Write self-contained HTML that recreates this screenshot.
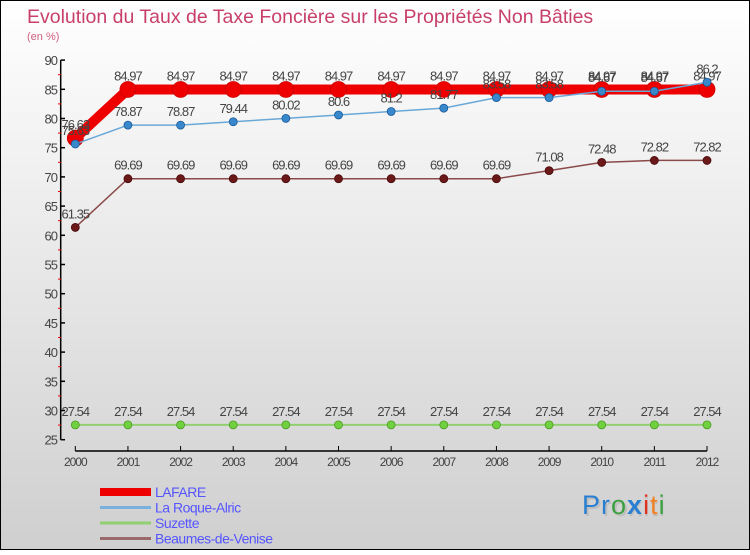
<!DOCTYPE html>
<html><head><meta charset="utf-8">
<style>
html,body{margin:0;padding:0;}
body{width:750px;height:550px;overflow:hidden;font-family:"Liberation Sans",sans-serif;}
svg text{font-family:"Liberation Sans",sans-serif;}
</style></head>
<body>
<svg id="chart" width="750" height="550" viewBox="0 0 750 550" xmlns="http://www.w3.org/2000/svg">
<defs>
<linearGradient id="bg" x1="0" y1="0" x2="0" y2="1">
<stop offset="0" stop-color="#ffffff"/><stop offset="1" stop-color="#cfcfcf"/>
</linearGradient>
</defs>
<rect x="0.5" y="0.5" width="749" height="549" fill="url(#bg)" stroke="#000" stroke-width="1"/>
<text x="27" y="23" font-size="19.5" fill="#c8406a">Evolution du Taux de Taxe Foncière sur les Propriétés Non Bâties</text>
<text x="27" y="40" font-size="11" fill="#d06080">(en %)</text>
<g id="axes"></g>
<g id="series"></g>
<g id="legend"></g>
<g font-size="27" font-family="Liberation Sans, sans-serif" letter-spacing="1">
<text x="584" y="516" fill="#aaa" opacity="0.5">Proxiti</text>
<text x="582" y="514"><tspan fill="#2a7fd0">P</tspan><tspan fill="#2a7fd0">r</tspan><tspan fill="#3aa040">o</tspan><tspan fill="#2a7fd0" font-weight="bold">x</tspan><tspan fill="#e03020">i</tspan><tspan fill="#f08020">t</tspan><tspan fill="#3aa040">i</tspan></text>
</g>
</svg>
<script>
const years = [2000,2001,2002,2003,2004,2005,2006,2007,2008,2009,2010,2011,2012];
const lafare = [76.63,84.97,84.97,84.97,84.97,84.97,84.97,84.97,84.97,84.97,84.97,84.97,84.97];
const laRoque = [75.63,78.87,78.87,79.44,80.02,80.6,81.2,81.77,83.58,83.58,84.67,84.67,86.2];
const suzette = [27.54,27.54,27.54,27.54,27.54,27.54,27.54,27.54,27.54,27.54,27.54,27.54,27.54];
const beaumes = [61.35,69.69,69.69,69.69,69.69,69.69,69.69,69.69,69.69,71.08,72.48,72.82,72.82];
const yTicks = [25,30,35,40,45,50,55,60,65,70,75,80,85,90];
const seriesNames = ["LAFARE","La Roque-Alric","Suzette","Beaumes-de-Venise"];

const NS="http://www.w3.org/2000/svg";
const x0=75.3, x1=707, yMin=25, yMax=90, py0=439.7, py1=60.1;
function xs(i){return x0+(x1-x0)*i/(years.length-1);}
function ys(v){return py0-(v-yMin)*(py0-py1)/(yMax-yMin);}
function mk(tag,attrs,parent){const e=document.createElementNS(NS,tag);for(const k in attrs)e.setAttribute(k,attrs[k]);parent.appendChild(e);return e;}
function fmt(v){return String(v);}

const axes=document.getElementById('axes');
let ax=mk('line',{x1:60.7,y1:py1,x2:60.7,y2:py0,stroke:'#000','stroke-width':1.5},axes);


yTicks.forEach(t=>{
  const y=ys(t);
  let tk=mk('line',{x1:60.7,y1:y,x2:65,y2:y,stroke:'#000','stroke-width':1.5},axes);
  
  
  let lb=mk('text',{x:57,y:y+5,'font-size':13,fill:'#444','text-anchor':'end','letter-spacing':'-1'},axes);
  lb.textContent=t;
  
  
  if(t<yMax){
    let mt=mk('line',{x1:58,y1:ys(t+2.5),x2:61,y2:ys(t+2.5),stroke:'#e00','stroke-width':1},axes);
    
    
  }
});
let xa=mk('line',{x1:x0,y1:451,x2:x1,y2:451,stroke:'#000','stroke-width':1.5},axes);


years.forEach((yr,i)=>{
  let tk=mk('line',{x1:xs(i),y1:446,x2:xs(i),y2:451,stroke:'#000','stroke-width':1},axes);
  
  
  let lb=mk('text',{x:xs(i),y:466,'font-size':12,fill:'#444','text-anchor':'middle','letter-spacing':'-1'},axes);
  lb.textContent=yr;
  
  
});

const ser=document.getElementById('series');
function drawSeries(vals,name,color,width,r,dot,dotStroke){
  const g=mk('g',{},ser);
  
  
  const pts=vals.map((v,i)=>xs(i)+','+ys(v)).join(' ');
  const pl=mk('polyline',{points:pts,fill:'none',stroke:color,'stroke-width':width,'stroke-linejoin':'round'},g);
  
  
  vals.forEach((v,i)=>{
    const c=mk('circle',{cx:xs(i),cy:ys(v),r:r,fill:dot,stroke:dotStroke,'stroke-width':0.8},g);
    
    
    const t=mk('text',{x:xs(i),y:ys(v)-9,'font-size':13,fill:'#444','text-anchor':'middle','letter-spacing':'-1'},g);
    t.textContent=fmt(v);
    
    
  });
}
drawSeries(suzette,'suzette','#90d070',2,4,'#70d040','#4a9a20');
drawSeries(beaumes,'beaumes-de-venise','#8a4a4a',1.5,4,'#6a1818','#4a0a0a');
drawSeries(lafare,'lafare','#ee0000',10,8,'#ee0000','#cc0000');
drawSeries(laRoque,'la-roque-alric','#6aa8d8',1.5,4,'#3a88cc','#1a5a9a');

const leg=document.getElementById('legend');
const legColors=['#ee0000','#7ab0dd','#90d070','#9a6a6a'];
const legW=[8,3,3,3];
seriesNames.forEach((n,i)=>{
  const y=492+i*15.5;
  const g=mk('g',{},leg);
  
  
  const l=mk('line',{x1:100,y1:y,x2:151,y2:y,stroke:legColors[i],'stroke-width':legW[i]},g);
  
  
  const t=mk('text',{x:155,y:y+5,'font-size':14,fill:'#5555ff','letter-spacing':'-0.5'},g);
  t.textContent=n;
  
  
});
</script>
</body></html>
